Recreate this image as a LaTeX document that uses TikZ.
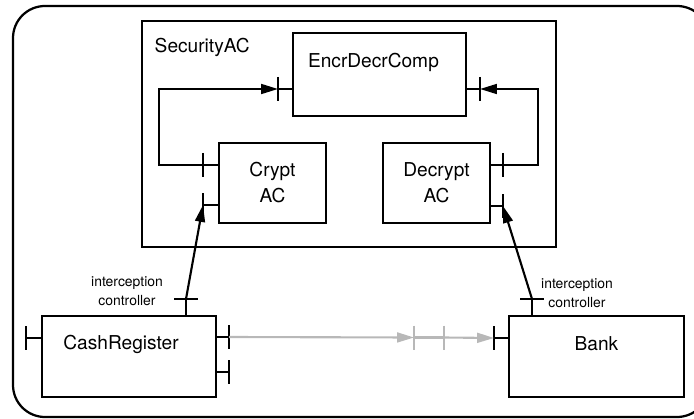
\documentclass[tikz,border=0pt]{standalone}
\usepackage{fontspec}
\setmainfont{TeX Gyre Heros}
\usetikzlibrary{positioning, arrows.meta}

\begin{document}
\begin{tikzpicture}[
    x=0.025cm, y=-0.025cm,
    line width=1.5pt,
    comp/.style={draw, inner sep=0pt, align=center, font=\fontsize{13.6}{18.5}\selectfont},
    conn/.style={-{Triangle[length=12pt, width=7pt]}, line width=1.5pt},
    grayconn/.style={conn, draw=black!28},
    graybar/.style={draw=black!28},
    note/.style={align=center, font=\fontsize{9.9}{13.5}\selectfont}
]

  \useasboundingbox (0,0) rectangle (694,419);
  \draw[line width=1.6pt, rounded corners=0.8cm] (13,6) rectangle (709,417);

  % Nodes
  \node[comp, minimum width=10.35cm, minimum height=5.65cm] (security) at (349,134) {};
  \node[anchor=west, font=\fontsize{13.6}{18.5}\selectfont] (secname) at (149,47) {SecurityAC};
  \node[comp, minimum width=4.325cm, minimum height=2.075cm,
        label={[xshift=-0.15cm, yshift=0.29cm, font=\fontsize{13.6}{18.5}\selectfont]center:EncrDecrComp}] (encr) at (379.5,74.5) {};
  \node[comp, minimum width=2.675cm, minimum height=2cm] (crypt) at (272.5,183) {Crypt\\AC};
  \node[comp, minimum width=2.675cm, minimum height=2cm] (decrypt) at (436.5,183) {Decrypt\\AC};
  \node[comp, minimum width=4.35cm, minimum height=2.025cm,
        label={[xshift=-0.2cm, yshift=0.31cm, font=\fontsize{13.6}{18.5}\selectfont]center:CashRegister}] (cash) at (129,356.5) {};
  \node[comp, minimum width=4.375cm, minimum height=2.025cm,
        label={[yshift=0.33cm, font=\fontsize{13.6}{18.5}\selectfont]center:Bank}] (bank) at (596.5,356.5) {};

  \node[note] (interL) at (127,291) {interception\\controller};
  \node[note] (interR) at (577,293) {interception\\controller};

  % Ports
  \coordinate (pEncrL) at (278,89);
  \coordinate (pEncrR) at (480,89);
  \coordinate (pCryptA) at (203,165);
  \coordinate (pCryptB) at (203,205);
  \coordinate (pDecA) at (503,165);
  \coordinate (pDecB) at (503,206);
  \coordinate (pCashL) at (26,338);
  \coordinate (pCashR) at (229,337);
  \coordinate (pCashR2) at (229,372);
  \coordinate (pCashT) at (186,299);
  \coordinate (pBankL) at (494,338);
  \coordinate (pBankT) at (532,299);
  \coordinate (gA) at (414,337.5);
  \coordinate (gB) at (444,337.5);

  \draw (pEncrL) -- (pEncrL -| encr.west);
  \draw (pEncrR) -- (pEncrR -| encr.east);
  \draw (pCryptA) -- (pCryptA -| crypt.west);
  \draw (pCryptB) -- (pCryptB -| crypt.west);
  \draw (pDecA) -- (pDecA -| decrypt.east);
  \draw (pDecB) -- (pDecB -| decrypt.east);
  \draw (pCashL) -- (pCashL -| cash.west);
  \draw (pCashR) -- (pCashR -| cash.east);
  \draw (pCashR2) -- (pCashR2 -| cash.east);
  \draw (pCashT) -- (pCashT |- cash.north);
  \draw (pBankL) -- (pBankL -| bank.west);
  \draw (pBankT) -- (pBankT |- bank.north);

  \foreach \p in {pEncrL, pEncrR, pCryptA, pCryptB, pDecA, pDecB, pCashL, pCashR, pCashR2, pBankL}
    \draw (\p) ++(0,-12) -- ++(0,24);
  \foreach \p in {pCashT, pBankT}
    \draw (\p) ++(-12,0) -- ++(24,0);

  % Arrows
  \draw[conn] (pCryptA) -- ++(-44,0) |- (pEncrL);
  \draw[conn] (pDecA) -- ++(35,0) |- (pEncrR);
  \draw[conn] (pCashT) -- (pCryptB);
  \draw[conn] (pBankT) -- (pDecB);

  \draw[grayconn] (pCashR) -- (gA);
  \draw[graybar] (gA) -- (gB);
  \draw[grayconn] (gB) -- (pBankL);
  \foreach \p in {gA, gB}
    \draw[graybar] (\p) ++(0,-12) -- ++(0,24);

\end{tikzpicture}
\end{document}
